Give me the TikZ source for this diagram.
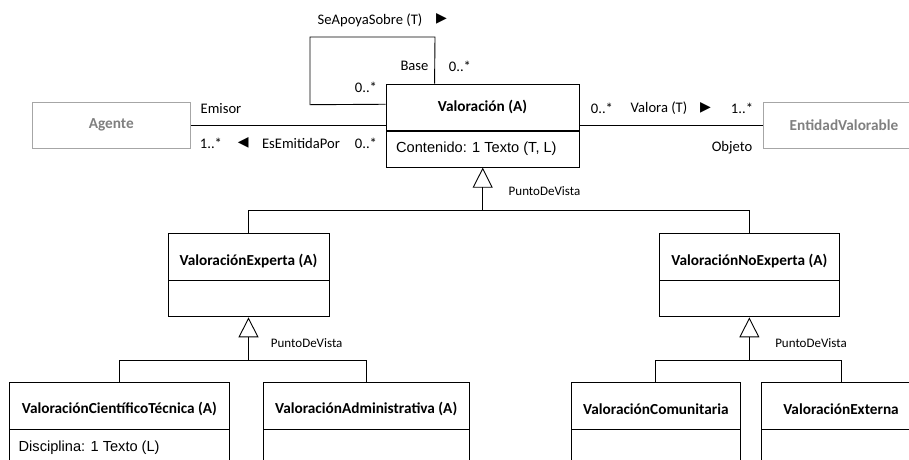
\documentclass[tikz,border=0pt]{standalone}
\usepackage{fontspec}
\setmainfont{Carlito}
\newfontfamily\arialf{Liberation Sans}
\usetikzlibrary{arrows.meta,calc}
\definecolor{grayborder}{RGB}{166,166,166}
\definecolor{graytext}{RGB}{128,128,128}
\tikzset{
  cls/.style={draw=black, line width=0.9pt, inner sep=0pt, font=\fontsize{15.3}{18}\selectfont\bfseries},
  clsname/.style={inner sep=0pt, font=\fontsize{15.3}{18}\selectfont\bfseries},
  ghost/.style={draw=grayborder, line width=0.9pt, inner sep=0pt, text=graytext, font=\fontsize{15.3}{18}\selectfont\bfseries},
  attr/.style={draw=black, line width=0.9pt, inner sep=0pt, font=\arialf\fontsize{14.6}{17}\selectfont, align=left},
  attrtext/.style={anchor=west, inner sep=0pt, font=\arialf\fontsize{14.6}{17}\selectfont},
  lbl/.style={inner sep=0pt, font=\fontsize{14.6}{18}\selectfont},
  small/.style={inner sep=0pt, font=\fontsize{13}{16}\selectfont},
  tri/.style={inner sep=0pt, font=\fontsize{14}{16}\selectfont},
  conn/.style={line width=0.9pt, black},
  gen/.style={line width=0.9pt, black, -{Triangle[open, length=20pt, width=20pt, line width=0.9pt]}},
}
\begin{document}
\begin{tikzpicture}[x=1pt, y=-1pt]
\useasboundingbox (0,0) rectangle (909,459);
\clip (0,0) rectangle (909,459);

% classes
\node[ghost, minimum width=158.5, minimum height=46.5] (agente) at (111.25,125.25) {Agente};
\node[cls, minimum width=193, minimum height=46.7] (val) at (482.5,107.35) {Valoración (A)};
\node[attr, minimum width=193, minimum height=35.6, anchor=north] (valA) at (val.south) {};
\node[attrtext] (valAt) at (396,148.3) {Contenido: 1 Texto (T, L)};
\node[ghost, minimum width=162, minimum height=46.5] (ent) at (844,125.25) {EntidadValorable};

\node[cls, minimum width=161, minimum height=46.7] (exp) at (248.5,256.65) {};
\node[clsname] (expN) at (248.5,261) {ValoraciónExperta (A)};
\node[attr, minimum width=161, minimum height=36, anchor=north] (expA) at (exp.south) {};
\node[cls, minimum width=179.3, minimum height=46.7] (nexp) at (749.35,256.65) {};
\node[clsname] (nexpN) at (749.35,261) {ValoraciónNoExperta (A)};
\node[attr, minimum width=179.3, minimum height=36, anchor=north] (nexpA) at (nexp.south) {};

\node[cls, minimum width=219.3, minimum height=46.3] (cien) at (119.35,405.85) {};
\node[clsname] (cienN) at (119.35,409) {ValoraciónCientíficoTécnica (A)};
\node[attr, minimum width=219.3, minimum height=40, anchor=north] (cienA) at (cien.south) {};
\node[attrtext] (cienAt) at (18.5,447.5) {Disciplina: 1 Texto (L)};

\node[cls, minimum width=206.3, minimum height=46.3] (adm) at (366.15,405.85) {};
\node[clsname] (admN) at (366.15,409) {ValoraciónAdministrativa (A)};
\node[attr, minimum width=206.3, minimum height=40, anchor=north] (admA) at (adm.south) {};

\node[cls, minimum width=168.3, minimum height=46.3] (com) at (655.85,405.85) {};
\node[clsname] (comN) at (655.85,409) {ValoraciónComunitaria};
\node[attr, minimum width=168.3, minimum height=40, anchor=north] (comA) at (com.south) {};

\node[cls, minimum width=158.6, minimum height=46.3] (ext) at (841,405.85) {};
\node[clsname] (extN) at (841,409) {ValoraciónExterna};
\node[attr, minimum width=158.6, minimum height=40, anchor=north] (extA) at (ext.south) {};

% association Agente - Valoracion
\draw[conn] (agente.east) ++(0,0.45) coordinate (ag1) -- (ag1 -| val.west);
% association Valoracion - EntidadValorable
\draw[conn] (ent.west) ++(0,0.45) coordinate (en1) -- (en1 -| val.east);
% self loop
\coordinate (loopA) at ($(val.north west)+(0,20.7)$);
\coordinate (loopB) at ($(val.north west)+(49,0)$);
\draw[conn] (loopA) -- (310,104.7) -- (310,37) -- (435,37) -- (loopB);

% labels
\node[lbl] (l1) at (370,20) {SeApoyaSobre (T)};
\node[tri] (t1) at (441.5,19) {\fontspec{DejaVu Sans}▶};
\node[lbl] (l2) at (414.5,66) {Base};
\node[lbl] (l3) at (460,66) {0..*};
\node[lbl] (l4) at (366,87.5) {0..*};
\node[lbl] (l5) at (221,108.3) {Emisor};
\node[lbl] (l6) at (211,143.3) {1..*};
\node[tri] (t2) at (243.3,143) {\fontspec{DejaVu Sans}◀};
\node[lbl] (l7) at (301,143.3) {EsEmitidaPor};
\node[lbl] (l8) at (366,143.3) {0..*};
\node[lbl] (l9) at (602,108.3) {0..*};
\node[lbl] (l10) at (659,108.3) {Valora (T)};
\node[tri] (t3) at (705.5,108) {\fontspec{DejaVu Sans}▶};
\node[lbl] (l11) at (742,108.3) {1..*};
\node[lbl] (l12) at (732,147.3) {Objeto};

% generalization top
\coordinate (g1) at (482.7,210.3);
\draw[gen] (g1) -- (valA.south -| g1);
\draw[conn] (g1 -| exp.north) -- (g1 -| nexp.north);
\draw[conn] (g1 -| exp.north) -- (exp.north);
\draw[conn] (g1 -| nexp.north) -- (nexp.north);
\node[small] (p1) at (544.5,191.5) {PuntoDeVista};

% generalization Experta
\coordinate (g2) at (248.5,360);
\draw[gen] (g2) -- (expA.south);
\draw[conn] (g2 -| cien.north) -- (g2 -| adm.north);
\draw[conn] (g2 -| cien.north) -- (cien.north);
\draw[conn] (g2 -| adm.north) -- (adm.north);
\node[small] (p2) at (306.7,343) {PuntoDeVista};

% generalization NoExperta
\coordinate (g3) at (749.35,360);
\draw[gen] (g3) -- (nexpA.south);
\draw[conn] (g3 -| com.north) -- (g3 -| ext.north);
\draw[conn] (g3 -| com.north) -- (com.north);
\draw[conn] (g3 -| ext.north) -- (ext.north);
\node[small] (p3) at (811,343) {PuntoDeVista};
\end{tikzpicture}
\end{document}
